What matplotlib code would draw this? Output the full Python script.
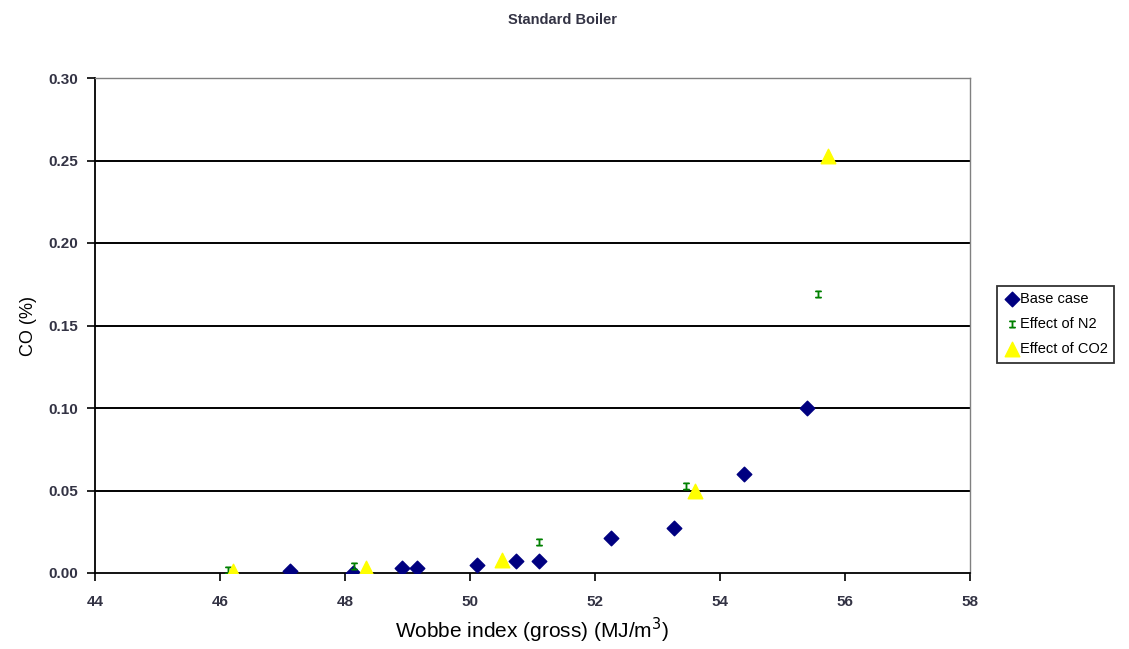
import matplotlib.pyplot as plt
import numpy as np

plt.rcParams['font.family'] = ['Liberation Sans', 'DejaVu Sans']

# Base case
base_x = [47.12, 48.13, 48.91, 49.15, 50.11, 50.74, 51.10, 52.26, 53.26, 54.38, 55.39]
base_y = [0.001, 0.000, 0.003, 0.003, 0.005, 0.007, 0.007, 0.021, 0.027, 0.060, 0.100]
# Effect of N2
n2_x = [46.13, 48.14, 51.10, 53.46, 55.57]
n2_y = [0.002, 0.004, 0.019, 0.053, 0.169]
# Effect of CO2
co2_x = [46.20, 48.34, 50.51, 53.60, 55.73]
co2_y = [0.001, 0.003, 0.008, 0.050, 0.253]

xticks = np.arange(44, 59, 2)
yticks = np.arange(0, 0.31, 0.05)

fig = plt.figure(figsize=(11.29, 6.49), dpi=100)
ax = fig.add_axes([95 / 1129, 1 - 573 / 649, 875 / 1129, 495 / 649])

for y in yticks[1:]:
    ax.axhline(y, color='black', lw=1.4, zorder=1)

ax.scatter(base_x, base_y, marker='D', s=55, color='#000080', zorder=3, label='Base case')
ax.scatter(n2_x, n2_y, marker='$\u2336$', s=22, color='#008000', zorder=3, label='Effect of N2')
ax.scatter(co2_x, co2_y, marker='^', s=110, color='#FFFF00', zorder=3, label='Effect of CO2')

ax.set_xlim(44, 58)
ax.set_ylim(0, 0.30)
ax.set_xticks(xticks)
ax.set_yticks(yticks)
ax.set_yticklabels(['%.2f' % v for v in yticks])
ax.tick_params(direction='out', length=6, width=1.2, labelsize=11, labelcolor='#333344')
ax.tick_params(axis='x', pad=10)
ax.tick_params(axis='y', pad=6)
for lbl in ax.get_xticklabels() + ax.get_yticklabels():
    lbl.set_fontweight('bold')

for s in ['left', 'bottom']:
    ax.spines[s].set_color('black')
    ax.spines[s].set_linewidth(1.3)
for s in ['top', 'right']:
    ax.spines[s].set_color('#808080')
    ax.spines[s].set_linewidth(1.0)

ax.set_xlabel('Wobbe index (gross) (MJ/m$^3$)', fontsize=15, labelpad=5)
ax.set_ylabel('CO (%)', fontsize=13, labelpad=8)
fig.text(0.498, 1 - 20 / 649, 'Standard Boiler', ha='center', va='center', fontsize=10.5,
         fontweight='bold', color='#333344')

leg = ax.legend(loc='center left', bbox_to_anchor=(1.031, 0.503), fontsize=10.5,
                frameon=True, fancybox=False, edgecolor='black', borderpad=0.45,
                handletextpad=0.0, handlelength=1.1, labelspacing=0.75, borderaxespad=0)
leg.get_frame().set_linewidth(1.3)

fig.savefig('out.png', dpi=100)
